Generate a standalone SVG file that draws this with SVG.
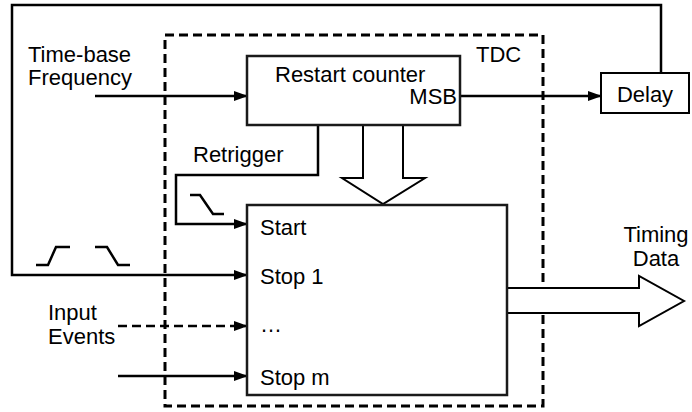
<svg xmlns="http://www.w3.org/2000/svg" width="692" height="412" viewBox="0 0 692 412">
<defs>
<marker id="ah" markerWidth="14" markerHeight="10" refX="13" refY="5" orient="auto" markerUnits="userSpaceOnUse">
<path d="M0,0 L14,5 L0,10 Z" fill="#000"/>
</marker>
<style>
text{font-family:"Liberation Sans",Arial,sans-serif;font-size:22px;fill:#000}
.ln{fill:none;stroke:#000;stroke-width:2.5}
.bx{fill:#fff;stroke:#1a1a1a;stroke-width:2.5}
.dash{fill:none;stroke:#000;stroke-width:3;stroke-dasharray:9,5}
</style>
</defs>
<rect width="692" height="412" fill="#fff"/>
<g id="tdc">
<rect class="dash" x="165" y="35" width="378" height="371"/>
<text x="476" y="62">TDC</text>
</g>
<g id="connectors">
<polyline class="ln" points="661,73 661,5 12,5 12,275 247,275" marker-end="url(#ah)"/>
<line class="ln" x1="95" y1="96" x2="247" y2="96" marker-end="url(#ah)"/>
<line class="ln" x1="460" y1="96" x2="601" y2="96" marker-end="url(#ah)"/>
<polyline class="ln" points="318,125 318,175 176,175 176,224 247,224" marker-end="url(#ah)"/>
<line class="ln" x1="118" y1="326" x2="247" y2="326" stroke-dasharray="9,5" marker-end="url(#ah)"/>
<line class="ln" x1="118" y1="376" x2="247" y2="376" marker-end="url(#ah)"/>
<polygon class="ln" points="363,125 403,125 403,178 425,178 383,204 342,178 363,178" style="fill:#fff;stroke-width:2"/>
<polygon class="ln" points="507,288 639,288 639,276 684,301 639,326 639,313 507,313" style="fill:#fff;stroke-width:2"/>
<polyline class="ln" points="190,195 200,195 213,214 224,214"/>
<polyline class="ln" points="36,265 48,265 56,247 70,247"/>
<polyline class="ln" points="95,247 107,247 118,265 130,265"/>
</g>
<g id="restart">
<rect class="bx" x="247" y="56" width="213" height="69"/>
<text x="275" y="82">Restart counter</text>
<text x="457" y="104" text-anchor="end">MSB</text>
</g>
<g id="delay">
<rect class="bx" x="601" y="73" width="88" height="40" style="stroke:#000;stroke-width:2"/>
<text x="645" y="102" text-anchor="middle">Delay</text>
</g>
<g id="block">
<rect class="bx" x="247" y="205" width="260" height="190"/>
<text x="260" y="235">Start</text>
<text x="260" y="284">Stop 1</text>
<text x="260" y="332">…</text>
<text x="260" y="385">Stop m</text>
</g>
<g id="labels">
<text x="28" y="62">Time-base</text>
<text x="28" y="85">Frequency</text>
<text x="193" y="162">Retrigger</text>
<text x="48" y="320">Input</text>
<text x="48" y="344">Events</text>
<text x="656" y="242" text-anchor="middle">Timing</text>
<text x="656" y="266" text-anchor="middle">Data</text>
</g>
</svg>
